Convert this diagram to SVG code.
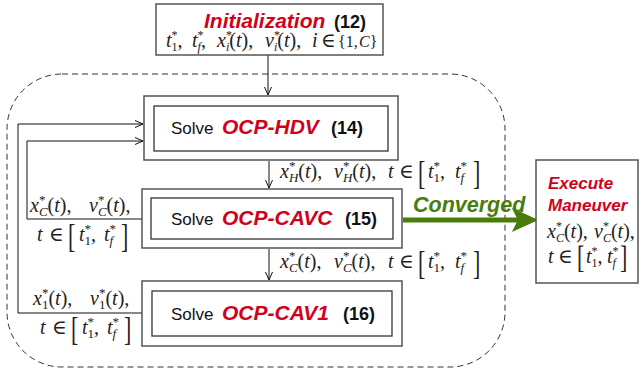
<svg xmlns="http://www.w3.org/2000/svg" width="642" height="374" viewBox="0 0 642 374">
<style>
.box{fill:#fff;stroke:#555;stroke-width:1.5}
.inner{fill:none;stroke:#333;stroke-width:1.3}
.ln{fill:none;stroke:#111;stroke-width:1}
.sans{font-family:"Liberation Sans",Arial,sans-serif}
.solve{font-size:17px;fill:#111}
.red{font-weight:bold;font-style:italic;fill:#d0021b}
.num{font-weight:bold;fill:#111}
.m{font-family:"Liberation Serif","DejaVu Serif",serif;font-size:20px;fill:#222}
.i{font-style:italic}
.sm{font-size:13px}
.bk{font-family:"Liberation Serif","DejaVu Serif",serif;font-size:22px;fill:#222}
</style>
<defs>
<marker id="ar" markerWidth="12" markerHeight="10" refX="9" refY="4" orient="auto" markerUnits="userSpaceOnUse">
<path d="M1,0.5 L9,4 L1,7.5" fill="none" stroke="#111" stroke-width="1"/>
</marker>
</defs>

<rect x="7" y="74" width="498" height="293" rx="55" ry="55" fill="none" stroke="#333" stroke-width="1" stroke-dasharray="6,4"/>

<g id="connectors">
<line class="ln" x1="268" y1="55" x2="268" y2="95" marker-end="url(#ar)"/>
<line class="ln" x1="269" y1="161" x2="269" y2="188" marker-end="url(#ar)"/>
<line class="ln" x1="269" y1="249" x2="269" y2="280" marker-end="url(#ar)"/>
<polyline class="ln" points="142,219 27,219 27,141 143,141" marker-end="url(#ar)"/>
<polyline class="ln" points="142,313 18,313 18,124 143,124" marker-end="url(#ar)"/>
<line x1="403" y1="220" x2="522" y2="220" stroke="#4a7c0c" stroke-width="5"/>
<path d="M536,220 L514,210 L519,220 L514,230 Z" fill="#4a7c0c" stroke="#4a7c0c" stroke-width="2"/>
<text class="sans" x="413" y="212" font-size="21.5" font-weight="bold" font-style="italic" fill="#4a7c0c">Converged</text>

<text class="m" y="178"><tspan x="280" class="i">x</tspan><tspan class="sm" dy="-8">*</tspan><tspan class="sm i" dx="-6.5" dy="12">H</tspan><tspan dy="-4">(</tspan><tspan class="i">t</tspan><tspan>),</tspan><tspan x="334" class="i">v</tspan><tspan class="sm" dy="-8">*</tspan><tspan class="sm i" dx="-6.5" dy="12">H</tspan><tspan dy="-4">(</tspan><tspan class="i">t</tspan><tspan>),</tspan><tspan x="388" class="i">t</tspan><tspan x="399">∈</tspan><tspan x="428" class="i">t</tspan><tspan class="sm" dy="-8">*</tspan><tspan class="sm" dx="-6.5" dy="12">1</tspan><tspan dy="-4">,</tspan><tspan x="455" class="i">t</tspan><tspan class="sm" dy="-8">*</tspan><tspan class="sm i" dx="-6.5" dy="12">f</tspan></text>
<text class="bk" transform="translate(418,184) scale(1,1.5)">[</text>
<text class="bk" transform="translate(473,184) scale(1,1.5)">]</text>

<text class="m" y="268"><tspan x="280" class="i">x</tspan><tspan class="sm" dy="-8">*</tspan><tspan class="sm i" dx="-6.5" dy="12">C</tspan><tspan dy="-4">(</tspan><tspan class="i">t</tspan><tspan>),</tspan><tspan x="334" class="i">v</tspan><tspan class="sm" dy="-8">*</tspan><tspan class="sm i" dx="-6.5" dy="12">C</tspan><tspan dy="-4">(</tspan><tspan class="i">t</tspan><tspan>),</tspan><tspan x="388" class="i">t</tspan><tspan x="399">∈</tspan><tspan x="428" class="i">t</tspan><tspan class="sm" dy="-8">*</tspan><tspan class="sm" dx="-6.5" dy="12">1</tspan><tspan dy="-4">,</tspan><tspan x="455" class="i">t</tspan><tspan class="sm" dy="-8">*</tspan><tspan class="sm i" dx="-6.5" dy="12">f</tspan></text>
<text class="bk" transform="translate(418,274) scale(1,1.5)">[</text>
<text class="bk" transform="translate(473,274) scale(1,1.5)">]</text>

<text class="m" y="212"><tspan x="30" class="i">x</tspan><tspan class="sm" dy="-8">*</tspan><tspan class="sm i" dx="-6.5" dy="12">C</tspan><tspan dy="-4">(</tspan><tspan class="i">t</tspan><tspan>),</tspan><tspan x="89" class="i">v</tspan><tspan class="sm" dy="-8">*</tspan><tspan class="sm i" dx="-6.5" dy="12">C</tspan><tspan dy="-4">(</tspan><tspan class="i">t</tspan><tspan>),</tspan></text>
<text class="m" y="241"><tspan x="37" class="i">t</tspan><tspan x="49">∈</tspan><tspan x="79" class="i">t</tspan><tspan class="sm" dy="-8">*</tspan><tspan class="sm" dx="-6.5" dy="12">1</tspan><tspan dy="-4">,</tspan><tspan x="104" class="i">t</tspan><tspan class="sm" dy="-8">*</tspan><tspan class="sm i" dx="-6.5" dy="12">f</tspan></text>
<text class="bk" transform="translate(68,247) scale(1,1.5)">[</text>
<text class="bk" transform="translate(121,247) scale(1,1.5)">]</text>

<text class="m" y="305"><tspan x="33" class="i">x</tspan><tspan class="sm" dy="-8">*</tspan><tspan class="sm" dx="-6.5" dy="12">1</tspan><tspan dy="-4">(</tspan><tspan class="i">t</tspan><tspan>),</tspan><tspan x="90" class="i">v</tspan><tspan class="sm" dy="-8">*</tspan><tspan class="sm" dx="-6.5" dy="12">1</tspan><tspan dy="-4">(</tspan><tspan class="i">t</tspan><tspan>),</tspan></text>
<text class="m" y="334"><tspan x="40" class="i">t</tspan><tspan x="52">∈</tspan><tspan x="82" class="i">t</tspan><tspan class="sm" dy="-8">*</tspan><tspan class="sm" dx="-6.5" dy="12">1</tspan><tspan dy="-4">,</tspan><tspan x="107" class="i">t</tspan><tspan class="sm" dy="-8">*</tspan><tspan class="sm i" dx="-6.5" dy="12">f</tspan></text>
<text class="bk" transform="translate(71,340) scale(1,1.5)">[</text>
<text class="bk" transform="translate(124,340) scale(1,1.5)">]</text>
</g>

<g id="init">
<rect class="box" x="156" y="4" width="227" height="51"/>
<text class="sans red" x="204" y="28" font-size="21">Initialization</text>
<text class="sans num" x="334" y="28" font-size="18">(12)</text>
<text class="m" y="47" font-size="19"><tspan x="166" class="i">t</tspan><tspan font-size="12" dy="-8">*</tspan><tspan font-size="12" dx="-6" dy="12">1</tspan><tspan dy="-4">,</tspan><tspan x="192" class="i">t</tspan><tspan font-size="12" dy="-8">*</tspan><tspan class="i" font-size="12" dx="-6" dy="12">f</tspan><tspan dy="-4">,</tspan><tspan x="217" class="i">x</tspan><tspan font-size="12" dy="-8">*</tspan><tspan class="i" font-size="12" dx="-6" dy="12">i</tspan><tspan dy="-4">(</tspan><tspan class="i">t</tspan><tspan>),</tspan><tspan x="265" class="i">v</tspan><tspan font-size="12" dy="-8">*</tspan><tspan class="i" font-size="12" dx="-6" dy="12">i</tspan><tspan dy="-4">(</tspan><tspan class="i">t</tspan><tspan>),</tspan><tspan x="312" class="i">i</tspan><tspan x="321">∈</tspan><tspan x="338" font-size="16">{1,</tspan><tspan x="359" font-size="16" class="i">C</tspan><tspan font-size="16">}</tspan></text>
</g>

<g id="hdv">
<rect class="box" x="144" y="96" width="254" height="64"/>
<rect class="inner" x="154" y="106" width="234" height="45"/>
<text class="sans solve" x="171" y="134">Solve</text>
<text class="sans red" x="222" y="134" font-size="21">OCP-HDV</text>
<text class="sans num" x="331" y="134" font-size="18">(14)</text>
</g>

<g id="cavc">
<rect class="box" x="142" y="189" width="260" height="59"/>
<rect class="inner" x="151" y="198" width="242" height="41"/>
<text class="sans solve" x="171" y="225">Solve</text>
<text class="sans red" x="222" y="225" font-size="21">OCP-CAVC</text>
<text class="sans num" x="345" y="225" font-size="18">(15)</text>
</g>

<g id="cav1">
<rect class="box" x="142" y="281" width="260" height="65"/>
<rect class="inner" x="152" y="291" width="240" height="45"/>
<text class="sans solve" x="171" y="320">Solve</text>
<text class="sans red" x="222" y="320" font-size="21">OCP-CAV1</text>
<text class="sans num" x="343" y="320" font-size="18">(16)</text>
</g>

<g id="execute">
<rect class="box" x="536" y="160" width="102" height="123"/>
<text class="sans red" x="548" y="189" font-size="17">Execute</text>
<text class="sans red" x="548" y="211" font-size="17">Maneuver</text>
<text class="m" y="238" font-size="18"><tspan x="547" class="i">x</tspan><tspan font-size="12" dy="-8">*</tspan><tspan class="i" font-size="12" dx="-6" dy="12">C</tspan><tspan dy="-4">(</tspan><tspan class="i">t</tspan><tspan>),</tspan><tspan x="594" class="i">v</tspan><tspan font-size="12" dy="-8">*</tspan><tspan class="i" font-size="12" dx="-6" dy="12">C</tspan><tspan dy="-4">(</tspan><tspan class="i">t</tspan><tspan>),</tspan></text>
<text class="m" y="263" font-size="18"><tspan x="548" class="i">t</tspan><tspan x="558">∈</tspan><tspan x="586" class="i">t</tspan><tspan font-size="12" dy="-8">*</tspan><tspan font-size="12" dx="-6" dy="12">1</tspan><tspan dy="-4">,</tspan><tspan x="607" class="i">t</tspan><tspan font-size="12" dy="-8">*</tspan><tspan class="i" font-size="12" dx="-6" dy="12">f</tspan></text>
<text class="bk" font-size="20" transform="translate(577,268) scale(1,1.4)">[</text>
<text class="bk" font-size="20" transform="translate(620,268) scale(1,1.4)">]</text>
</g>
</svg>
